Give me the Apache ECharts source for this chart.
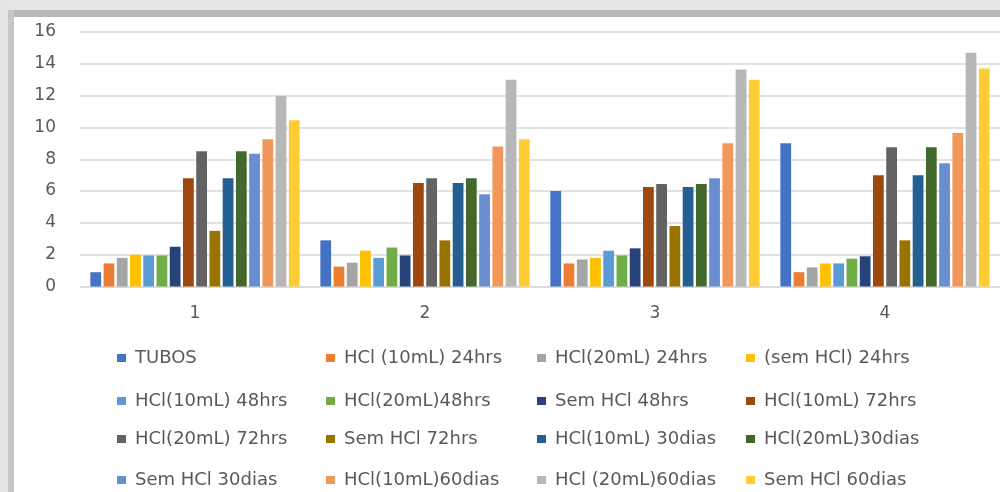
<!DOCTYPE html>
<html>
<head>
<meta charset="utf-8">
<script src="https://cdn.jsdelivr.net/npm/echarts@6/dist/echarts.min.js"></script>
<style>
  html, body { margin: 0; padding: 0; background: #ffffff; }
  #chart { width: 1000px; height: 492px; }
</style>
</head>
<body>
<div id="chart"></div>
<script>
// Categories (x axis) and y-axis ticks
const categories = ['1', '2', '3', '4'];
const yTicks = [0, 2, 4, 6, 8, 10, 12, 14, 16];

// Series names, in legend order
const seriesNames = [
  'TUBOS', 'HCl (10mL) 24hrs', 'HCl(20mL) 24hrs', '(sem HCl) 24hrs',
  'HCl(10mL) 48hrs', 'HCl(20mL)48hrs', 'Sem HCl 48hrs', 'HCl(10mL) 72hrs',
  'HCl(20mL) 72hrs', 'Sem HCl 72hrs', 'HCl(10mL) 30dias', 'HCl(20mL)30dias',
  'Sem HCl 30dias', 'HCl(10mL)60dias', 'HCl (20mL)60dias', 'Sem HCl 60dias'
];

// Values per series, one entry per category
const tubos       = [0.9, 2.9, 6.0, 9.0];
const hcl10_24h   = [1.45, 1.25, 1.45, 0.9];
const hcl20_24h   = [1.8, 1.5, 1.7, 1.2];
const semHcl_24h  = [2.0, 2.25, 1.8, 1.45];
const hcl10_48h   = [1.95, 1.8, 2.25, 1.45];
const hcl20_48h   = [1.95, 2.45, 1.95, 1.75];
const semHcl_48h  = [2.5, 1.95, 2.4, 1.9];
const hcl10_72h   = [6.8, 6.5, 6.25, 7.0];
const hcl20_72h   = [8.5, 6.8, 6.45, 8.75];
const semHcl_72h  = [3.5, 2.9, 3.8, 2.9];
const hcl10_30d   = [6.8, 6.5, 6.25, 7.0];
const hcl20_30d   = [8.5, 6.8, 6.45, 8.75];
const semHcl_30d  = [8.35, 5.8, 6.8, 7.75];
const hcl10_60d   = [9.25, 8.8, 9.0, 9.65];
const hcl20_60d   = [12.0, 13.0, 13.65, 14.7];
const semHcl_60d  = [10.45, 9.25, 13.0, 13.7];

const seriesValues = [
  tubos, hcl10_24h, hcl20_24h, semHcl_24h,
  hcl10_48h, hcl20_48h, semHcl_48h, hcl10_72h,
  hcl20_72h, semHcl_72h, hcl10_30d, hcl20_30d,
  semHcl_30d, hcl10_60d, hcl20_60d, semHcl_60d
];

const colors = [
  '#4472C4', '#ED7D31', '#A5A5A5', '#FFC000',
  '#5B9BD5', '#70AD47', '#264478', '#9E480E',
  '#636363', '#997300', '#255E91', '#43682B',
  '#698ED0', '#F1975A', '#B7B7B7', '#FFCD33'
];

const FONT = 'DejaVu Sans';
const TEXT_COLOR = '#595959';

const series = seriesNames.map((name, i) => ({
  name: name,
  type: 'bar',
  data: seriesValues[i],
  itemStyle: { color: colors[i] },
  barGap: '23%',
  barCategoryGap: '9%'
}));

// Legend as a 4x4 table: one single-item legend per cell, filled row by row
const columnLeft = [112, 321, 532, 741];
const rowTop = [343, 386, 424, 465];
const legends = seriesNames.map((name, i) => ({
  left: columnLeft[i % 4],
  top: rowTop[Math.floor(i / 4)],
  itemWidth: 9,
  itemHeight: 8,
  icon: 'rect',
  selectedMode: false,
  data: [name],
  textStyle: {
    fontFamily: FONT,
    fontSize: 18,
    lineHeight: 20,
    color: TEXT_COLOR,
    padding: [0, 0, 0, 4]
  }
}));

const chart = echarts.init(document.getElementById('chart'), null, { renderer: 'canvas' });

chart.setOption({
  backgroundColor: '#ffffff',
  animation: false,
  color: colors,
  grid: { left: 80, right: 0, top: 32, height: 254.5, containLabel: false },
  legend: legends,
  xAxis: {
    type: 'category',
    data: categories,
    axisTick: { show: false },
    axisLine: { lineStyle: { color: '#d9d9d9', width: 1.5 } },
    axisLabel: { fontFamily: FONT, fontSize: 17, color: TEXT_COLOR, margin: 19 }
  },
  yAxis: {
    type: 'value',
    min: yTicks[0],
    max: yTicks[yTicks.length - 1],
    interval: yTicks[1] - yTicks[0],
    axisLine: { show: false },
    axisTick: { show: false },
    splitLine: { lineStyle: { color: '#d9d9d9', width: 1.5 } },
    axisLabel: { fontFamily: FONT, fontSize: 17, color: TEXT_COLOR, margin: 24 }
  },
  series: series,
  // Soft page frame along the top and left edges
  graphic: [
    { type: 'rect', left: 0, top: 0, shape: { width: 1000, height: 10 }, style: { fill: '#e6e6e6' }, silent: true },
    { type: 'rect', left: 0, top: 0, shape: { width: 8, height: 492 }, style: { fill: '#e3e3e3' }, silent: true },
    { type: 'rect', left: 8, top: 10, shape: { width: 992, height: 7 }, style: { fill: '#b8b8b8' }, silent: true },
    { type: 'rect', left: 8, top: 10, shape: { width: 6, height: 482 }, style: { fill: '#c6c6c6' }, silent: true }
  ]
});
</script>
</body>
</html>
